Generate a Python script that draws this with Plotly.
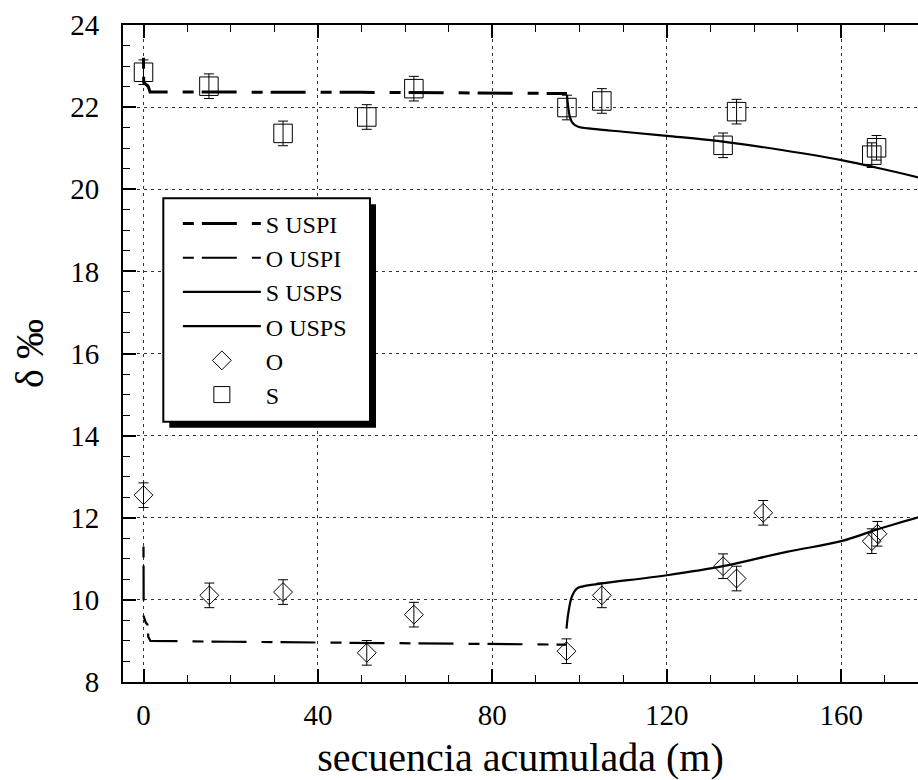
import plotly.graph_objects as go

# ---------------- data ----------------
# S (squares) measurements
s_x = [0, 15.0, 32.0, 51.2, 62.0, 97.1, 105.1, 132.9, 136.0, 167.0, 168.1]
s_y = [22.85, 22.51, 21.36, 21.76, 22.45, 21.99, 22.15, 21.07, 21.89, 20.83, 21.01]
s_err = [0.3, 0.3, 0.3, 0.3, 0.3, 0.3, 0.3, 0.3, 0.3, 0.3, 0.3]

# O (diamonds) measurements
o_x = [0, 15.1, 32.0, 51.2, 62.0, 97.0, 105.1, 132.9, 136.0, 142.1, 167.0, 168.3]
o_y = [12.55, 10.11, 10.19, 8.71, 9.64, 8.75, 10.11, 10.82, 10.52, 12.12, 11.43, 11.61]
o_err = [0.3, 0.3, 0.3, 0.3, 0.3, 0.3, 0.3, 0.3, 0.3, 0.3, 0.3, 0.3]

# model curves
s_uspi_x = [0, 0.05, 0.6, 1.1, 1.5, 10, 30, 50, 70, 90, 97.1]
s_uspi_y = [23.2, 22.6, 22.55, 22.5, 22.37, 22.37, 22.36, 22.36, 22.35, 22.34, 22.33]

o_uspi_x = [0, 0.05, 0.5, 0.9, 1.1, 1.6, 20, 40, 60, 80, 97.0]
o_uspi_y = [11.3, 9.6, 9.45, 9.4, 9.1, 9.0, 8.98, 8.96, 8.95, 8.93, 8.91]

s_usps_x = [97.1, 97.4, 97.8, 98.5, 99.7, 103.0, 110, 120, 132.9, 146.7, 160, 170, 178]
s_usps_y = [22.3, 22.0, 21.75, 21.6, 21.52, 21.47, 21.40, 21.30, 21.16, 20.95, 20.71, 20.48, 20.28]

o_usps_x = [97.0, 97.4, 98.2, 99.3, 100.8, 105.1, 120, 132.9, 147.5, 160, 168.1, 178]
o_usps_y = [9.30, 9.67, 10.07, 10.27, 10.33, 10.40, 10.60, 10.82, 11.17, 11.43, 11.71, 12.02]

x_ticks = [0, 40, 80, 120, 160]
y_ticks = [8, 10, 12, 14, 16, 18, 20, 22, 24]

FONT = "Liberation Serif, Times New Roman, Times, serif"
DASH = "11px,8px,35px,15px"

fig = go.Figure()
fig.add_trace(go.Scatter(x=s_uspi_x, y=s_uspi_y, mode="lines", name="S USPI",
                         line=dict(color="black", width=3, dash=DASH)))
fig.add_trace(go.Scatter(x=o_uspi_x, y=o_uspi_y, mode="lines", name="O USPI",
                         line=dict(color="black", width=2.2, dash=DASH)))
fig.add_trace(go.Scatter(x=s_usps_x, y=s_usps_y, mode="lines", name="S USPS",
                         line=dict(color="black", width=2.2), line_shape="spline"))
fig.add_trace(go.Scatter(x=o_usps_x, y=o_usps_y, mode="lines", name="O USPS",
                         line=dict(color="black", width=2.2), line_shape="spline"))
fig.add_trace(go.Scatter(x=o_x, y=o_y, mode="markers", name="O",
                         marker=dict(symbol="diamond", size=14.5, color="rgba(0,0,0,0)",
                                     line=dict(color="black", width=1)),
                         error_y=dict(type="data", array=o_err, color="black",
                                      thickness=1, width=5)))
fig.add_trace(go.Scatter(x=s_x, y=s_y, mode="markers", name="S",
                         marker=dict(symbol="square", size=18.5, color="rgba(0,0,0,0)",
                                     line=dict(color="black", width=1)),
                         error_y=dict(type="data", array=s_err, color="black",
                                      thickness=1, width=5)))

# legend frame with drop shadow (paper coordinates)
L, R, T, B = 0.0507, 0.3107, 0.7362, 0.3962
dx, dy = 6 / 795, 6 / 657
shapes = [
    dict(type="rect", xref="paper", yref="paper", x0=L + dx, x1=R + dx, y0=B - dy, y1=T - dy,
         fillcolor="black", line=dict(width=0), layer="above"),
    dict(type="rect", xref="paper", yref="paper", x0=L, x1=R, y0=B, y1=T,
         fillcolor="white", line=dict(color="black", width=2), layer="above"),
]

fig.update_layout(
    width=918, height=780,
    margin=dict(l=123, r=0, t=25, b=98),
    paper_bgcolor="white", plot_bgcolor="white",
    font=dict(family=FONT, color="black", size=29),
    shapes=shapes,
    showlegend=True,
    legend=dict(x=0.069, y=0.7314, xanchor="left", yanchor="top",
                bgcolor="rgba(0,0,0,0)", borderwidth=0,
                font=dict(family=FONT, size=24, color="black"),
                itemwidth=78, tracegroupgap=0),
    xaxis=dict(range=[-4.7, 177.6], tickvals=x_ticks, ticks="inside", ticklen=13,
               tickwidth=1.5, tickcolor="black", showline=True, linewidth=2,
               linecolor="black", mirror="ticks", zeroline=False,
               showgrid=True, gridcolor="#333", griddash="3px,4px", gridwidth=1,
               minor=dict(dtick=10, tick0=0, ticks="inside", ticklen=7,
                          tickcolor="black", tickwidth=1, showgrid=False),
               ticklabelstandoff=6,
               title=dict(text="secuencia acumulada (m)", font=dict(size=40, family=FONT),
                          standoff=16)),
    yaxis=dict(range=[8, 24], tickvals=y_ticks, ticks="inside", ticklen=13,
               tickwidth=1.5, tickcolor="black", showline=True, linewidth=2,
               linecolor="black", mirror=False, zeroline=False,
               showgrid=True, gridcolor="#333", griddash="3px,4px", gridwidth=1,
               minor=dict(dtick=0.5, tick0=8, ticks="inside", ticklen=7,
                          tickcolor="black", tickwidth=1, showgrid=False),
               ticklabelstandoff=16,
               title=dict(text="δ ‰", font=dict(size=40, family=FONT), standoff=14)),
)

fig.write_html("out.html")
